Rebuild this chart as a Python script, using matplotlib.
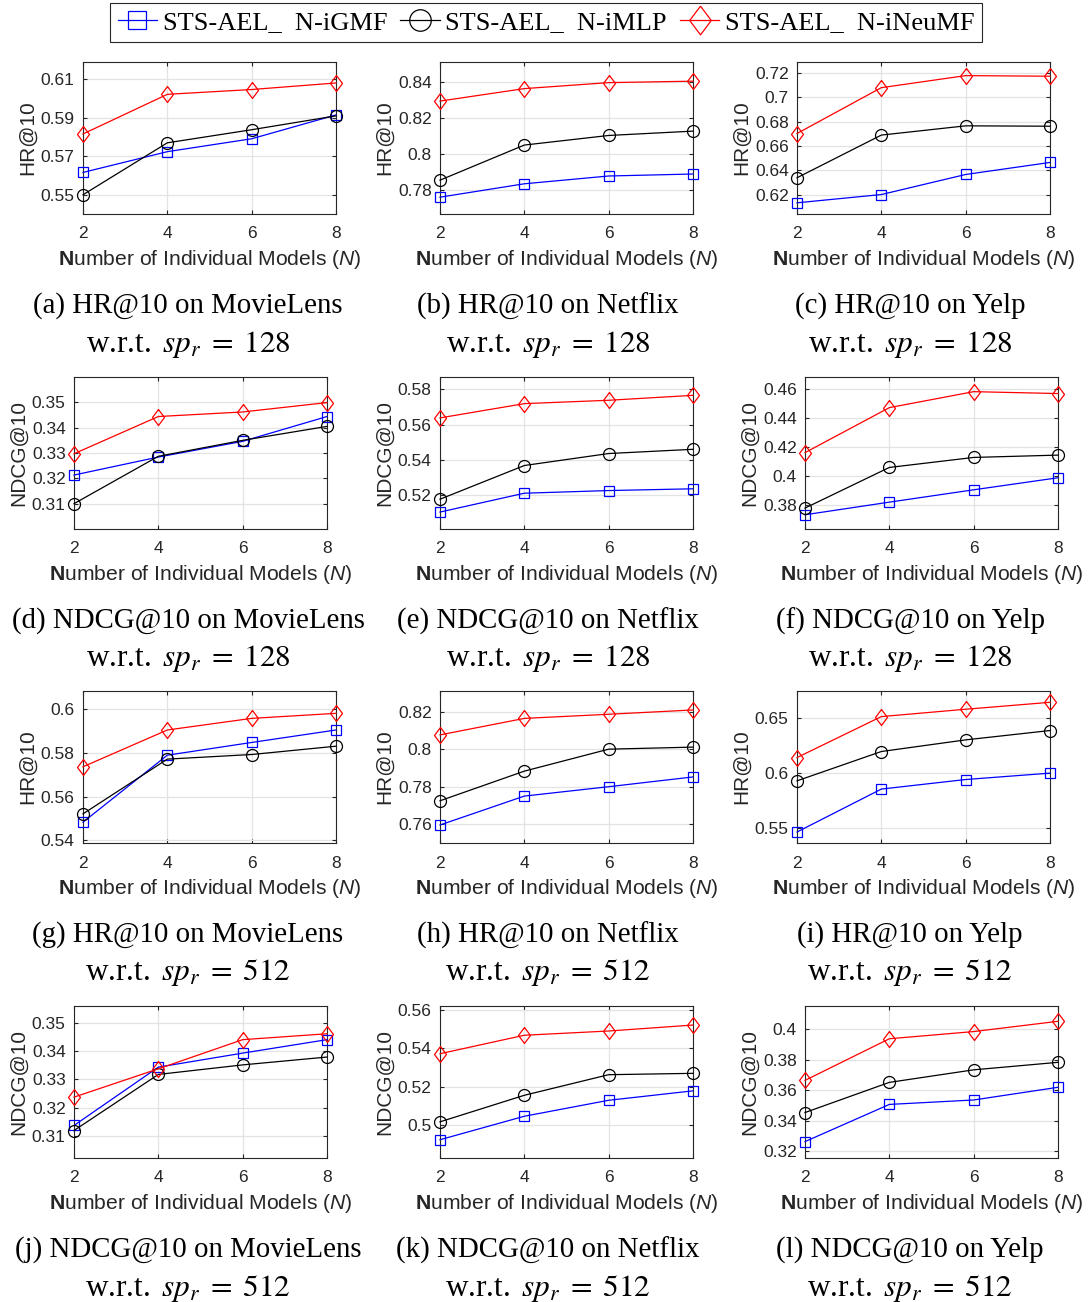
import numpy as np
import matplotlib
matplotlib.use('Agg')
import matplotlib.pyplot as plt
from matplotlib.ticker import FuncFormatter

plt.rcParams['font.family'] = 'Liberation Sans'
plt.rcParams['mathtext.fontset'] = 'custom'
plt.rcParams['mathtext.rm'] = 'Liberation Sans'
plt.rcParams['mathtext.it'] = 'Liberation Sans:italic'
plt.rcParams['mathtext.bf'] = 'Liberation Sans:bold'

# Data
n_models = [2, 4, 6, 8]
series_names = ['STS-AEL_  N-iGMF', 'STS-AEL_  N-iMLP', 'STS-AEL_  N-iNeuMF']

# sp_r = 128
hr_ml_128 = [[0.5616, 0.5724, 0.5791, 0.5915],
             [0.5500, 0.5770, 0.5838, 0.5910],
             [0.5816, 0.6022, 0.6047, 0.6081]]
hr_nf_128 = [[0.7763, 0.7837, 0.7880, 0.7891],
             [0.7857, 0.8051, 0.8104, 0.8128],
             [0.8294, 0.8363, 0.8396, 0.8404]]
hr_yp_128 = [[0.6132, 0.6200, 0.6365, 0.6464],
             [0.6338, 0.6689, 0.6765, 0.6762],
             [0.6702, 0.7079, 0.7178, 0.7173]]
ndcg_ml_128 = [[0.3213, 0.3284, 0.3346, 0.3444],
               [0.3100, 0.3287, 0.3350, 0.3405],
               [0.3297, 0.3444, 0.3462, 0.3499]]
ndcg_nf_128 = [[0.5104, 0.5211, 0.5226, 0.5236],
               [0.5177, 0.5368, 0.5436, 0.5460],
               [0.5638, 0.5719, 0.5738, 0.5766]]
ndcg_yp_128 = [[0.3731, 0.3818, 0.3903, 0.3986],
               [0.3777, 0.4057, 0.4126, 0.4142],
               [0.4159, 0.4469, 0.4579, 0.4566]]
# sp_r = 512
hr_ml_512 = [[0.5483, 0.5789, 0.5847, 0.5904],
             [0.5521, 0.5771, 0.5792, 0.5830],
             [0.5736, 0.5904, 0.5957, 0.5980]]
hr_nf_512 = [[0.7596, 0.7750, 0.7800, 0.7852],
             [0.7725, 0.7883, 0.8000, 0.8011],
             [0.8076, 0.8164, 0.8186, 0.8209]]
hr_yp_512 = [[0.5464, 0.5855, 0.5942, 0.6000],
             [0.5930, 0.6197, 0.6303, 0.6388],
             [0.6142, 0.6515, 0.6582, 0.6645]]
ndcg_ml_512 = [[0.3136, 0.3344, 0.3394, 0.3442],
               [0.3118, 0.3318, 0.3352, 0.3380],
               [0.3237, 0.3338, 0.3442, 0.3463]]
ndcg_nf_512 = [[0.4925, 0.5047, 0.5130, 0.5179],
               [0.5018, 0.5156, 0.5263, 0.5270],
               [0.5372, 0.5468, 0.5490, 0.5521]]
ndcg_yp_512 = [[0.3264, 0.3507, 0.3536, 0.3619],
               [0.3454, 0.3651, 0.3733, 0.3782],
               [0.3664, 0.3936, 0.3983, 0.4050]]

panel_data = [hr_ml_128, hr_nf_128, hr_yp_128,
              ndcg_ml_128, ndcg_nf_128, ndcg_yp_128,
              hr_ml_512, hr_nf_512, hr_yp_512,
              ndcg_ml_512, ndcg_nf_512, ndcg_yp_512]
ylabels = ['HR@10'] * 3 + ['NDCG@10'] * 3 + ['HR@10'] * 3 + ['NDCG@10'] * 3
ylims = [(0.540, 0.619), (0.767, 0.851), (0.604, 0.729),
         (0.300, 0.360), (0.5008, 0.587), (0.3633, 0.468),
         (0.5388, 0.6082), (0.750, 0.831), (0.5364, 0.6748),
         (0.302, 0.3562), (0.483, 0.562), (0.3157, 0.415)]
yticks = [[0.55, 0.57, 0.59, 0.61], [0.78, 0.80, 0.82, 0.84],
          [0.62, 0.64, 0.66, 0.68, 0.70, 0.72],
          [0.31, 0.32, 0.33, 0.34, 0.35], [0.52, 0.54, 0.56, 0.58],
          [0.38, 0.40, 0.42, 0.44, 0.46],
          [0.54, 0.56, 0.58, 0.60], [0.76, 0.78, 0.80, 0.82], [0.55, 0.60, 0.65],
          [0.31, 0.32, 0.33, 0.34, 0.35], [0.50, 0.52, 0.54, 0.56],
          [0.32, 0.34, 0.36, 0.38, 0.40]]
captions = ['(a) HR@10 on MovieLens', '(b) HR@10 on Netflix', '(c) HR@10 on Yelp',
            '(d) NDCG@10 on MovieLens', '(e) NDCG@10 on Netflix', '(f) NDCG@10 on Yelp',
            '(g) HR@10 on MovieLens', '(h) HR@10 on Netflix', '(i) HR@10 on Yelp',
            '(j) NDCG@10 on MovieLens', '(k) NDCG@10 on Netflix', '(l) NDCG@10 on Yelp']
sp_values = [128] * 6 + [512] * 6

colors = ['blue', 'black', 'red']
diamond = [(0, 1), (0.75, 0), (0, -1), (-0.75, 0), (0, 1)]
markers = ['s', 'o', diamond]
msizes = [7.2, 8.6, 11.5]

# Layout in pixels
W, H = 1092, 1302
row_tops = [62, 377, 691, 1006]
ax_h = 152
ax_w = 253
col_lefts = [[83, 440, 797], [74, 440, 805], [83, 440, 797], [74, 440, 805]]
cap_x = [188, 548, 910]

fig = plt.figure(figsize=(W / 100, H / 100), dpi=100)
dark = '#262626'

handles = []
for i in range(12):
    r, c = divmod(i, 3)
    left = col_lefts[r][c]
    top = row_tops[r]
    ax = fig.add_axes([left / W, 1 - (top + ax_h) / H, ax_w / W, ax_h / H])
    vals = panel_data[i]
    for k in range(3):
        ln, = ax.plot(n_models, vals[k], color=colors[k], marker=markers[k],
                      markersize=msizes[k], markerfacecolor='none',
                      markeredgewidth=0.9, linewidth=0.9, clip_on=False,
                      label=series_names[k], zorder=3)
        if i == 0:
            handles.append(ln)
    ax.set_xlim(2, 8)
    ax.set_ylim(*ylims[i])
    ax.set_xticks(n_models)
    ax.set_yticks(yticks[i])
    ax.yaxis.set_major_formatter(FuncFormatter(lambda v, p: '%g' % round(v, 4)))
    ax.grid(True, color='#e3e3e3', linewidth=0.9)
    ax.set_axisbelow(True)
    for s in ax.spines.values():
        s.set_color(dark)
        s.set_linewidth(0.8)
    ax.tick_params(direction='in', top=True, right=True, length=3,
                   colors=dark, labelsize=12.5, width=0.8)
    ax.tick_params(axis='x', pad=9)
    ax.tick_params(axis='y', pad=6)
    ax.set_ylabel(ylabels[i], fontsize=15, color=dark, labelpad=3)
    ax.set_xlabel(r'$\mathbf{N}$umber of Individual Models ($\mathit{N}$)',
                  fontsize=15.2, color=dark, labelpad=5)

    fig.text(cap_x[c] / W, 1 - (row_tops[r] + 244) / H, captions[i],
             family='Liberation Serif', fontsize=20.8, ha='center', va='center')
    fig.text(cap_x[c] / W, 1 - (row_tops[r] + 282) / H,
             r'w.r.t. $\,sp_r\;=\;%d$' % sp_values[i],
             family='Liberation Serif', fontsize=22.5, ha='center', va='center',
             math_fontfamily='stix')

leg = fig.legend(handles, series_names, loc='upper center',
                 bbox_to_anchor=(0.5, 1 - 3 / H), ncol=3, frameon=True,
                 fancybox=False, edgecolor=dark, framealpha=1,
                 prop={'family': 'Liberation Serif', 'size': 19},
                 handlelength=1.5, handletextpad=0.2, columnspacing=0.5,
                 markerscale=1.8, borderpad=0.3, borderaxespad=0)
leg.get_frame().set_linewidth(0.8)

fig.savefig('out.png', dpi=100)
